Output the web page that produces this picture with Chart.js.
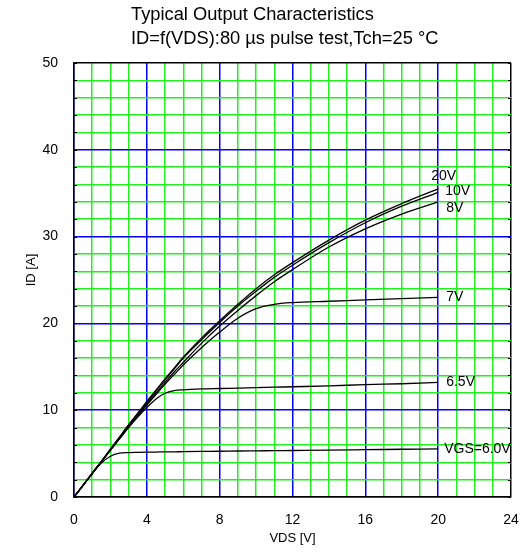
<!DOCTYPE html>
<html lang="en">
<head>
<meta charset="UTF-8">
<title>Typical Output Characteristics</title>
<script src="https://cdn.jsdelivr.net/npm/chart.js@4/dist/chart.umd.min.js"></script>
<style>
  html, body { margin: 0; padding: 0; background: #fff; }
  #wrap { width: 524px; height: 552px; position: relative; }
</style>
</head>
<body>
<div id="wrap"><canvas id="chart"></canvas></div>
<script>
// VDS sample points [V]
const vds = [0, 0.5, 1, 1.5, 2, 2.5, 3, 3.5, 4, 4.5, 5, 5.5, 6, 7, 8, 9, 10, 11, 12, 14, 16, 18, 20];

// ID [A] per gate voltage
const id20V = [0, 1.37, 2.75, 4.1, 5.5, 6.9, 8.3, 9.65, 11.0, 12.3, 13.6, 14.85, 16.1, 18.3, 20.3, 22.2, 24.0, 25.6, 27.0, 29.6, 31.9, 33.8, 35.5];
const id10V = [0, 1.37, 2.75, 4.1, 5.5, 6.9, 8.3, 9.6, 10.9, 12.2, 13.5, 14.75, 16.0, 18.1, 20.1, 22.0, 23.7, 25.3, 26.7, 29.3, 31.6, 33.5, 35.1];
const id8V = [0, 1.35, 2.7, 4.05, 5.4, 6.75, 8.1, 9.4, 10.7, 11.95, 13.2, 14.4, 15.5, 17.7, 19.7, 21.5, 23.2, 24.8, 26.2, 28.8, 30.9, 32.6, 34.0];
const id7V = [0, 1.35, 2.7, 4.05, 5.4, 6.75, 8.1, 9.35, 10.6, 11.8, 13.0, 14.1, 15.2, 17.2, 19.0, 20.6, 21.7, 22.2, 22.4, 22.55, 22.7, 22.85, 23.0];
const id6V5 = [0, 1.35, 2.7, 4.05, 5.4, 6.7, 8.0, 9.2, 10.3, 11.3, 11.95, 12.25, 12.35, 12.45, 12.5, 12.55, 12.6, 12.65, 12.7, 12.8, 12.95, 13.05, 13.2];
const id6V0 = [0, 1.35, 2.7, 3.9, 4.7, 5.05, 5.12, 5.15, 5.17, 5.18, 5.2, 5.2, 5.22, 5.25, 5.27, 5.3, 5.32, 5.34, 5.36, 5.4, 5.45, 5.5, 5.55];

const curveNames = ['20V', '10V', '8V', '7V', '6.5V', 'VGS=6.0V'];
const curveValues = [id20V, id10V, id8V, id7V, id6V5, id6V0];

const xTicksLabelled = [0, 4, 8, 12, 16, 20, 24];
const yTicksLabelled = [0, 10, 20, 30, 40, 50];

const FONT = '"Liberation Sans", Arial, Helvetica, sans-serif';
const GREEN = '#22ee22';
const BLUE = '#0000ff';

// label offsets from each curve's last point (px)
const labelOffsets = {
  '20V': [-7, -13],
  '10V': [7, -1],
  '8V': [8, 6],
  '7V': [8, 0],
  '6.5V': [8, 0],
  'VGS=6.0V': [6, 0],
};

const datasets = curveNames.map((name, i) => ({
  label: name,
  data: vds.map((v, j) => ({ x: v, y: curveValues[i][j] })),
  borderColor: '#000',
  borderWidth: 1.3,
  pointRadius: 0,
  fill: false,
  cubicInterpolationMode: 'monotone',
}));

function gridColor(max, majorStep) {
  return ctx => {
    const v = ctx.tick.value;
    if (v === max) return '#000';
    return v % majorStep === 0 ? BLUE : GREEN;
  };
}

const annotate = {
  id: 'annotate',
  afterDraw(chart) {
    const { ctx, chartArea: a, scales } = chart;
    ctx.save();

    // small inward ticks on left and right frame
    ctx.strokeStyle = '#000';
    ctx.lineWidth = 1;
    scales.y.ticks.forEach(t => {
      const y = Math.round(scales.y.getPixelForValue(t.value)) + 0.5;
      ctx.beginPath();
      ctx.moveTo(a.left, y); ctx.lineTo(a.left + 3, y);
      ctx.moveTo(a.right, y); ctx.lineTo(a.right - 3, y);
      ctx.stroke();
    });

    // curve labels
    ctx.fillStyle = '#000';
    ctx.font = '14px ' + FONT;
    ctx.textBaseline = 'middle';
    ctx.textAlign = 'left';
    chart.data.datasets.forEach((ds, i) => {
      const pts = chart.getDatasetMeta(i).data;
      const p = pts[pts.length - 1];
      const off = labelOffsets[ds.label] || [6, 0];
      ctx.fillText(ds.label, p.x + off[0], p.y + off[1]);
    });

    // title
    ctx.font = '18.3px ' + FONT;
    ctx.textBaseline = 'alphabetic';
    ctx.fillText('Typical Output Characteristics', 131, 20);
    ctx.fillText('ID=f(VDS):80 \u00b5s pulse test,Tch=25 \u00b0C', 131, 44);

    // axis titles
    ctx.font = '13px ' + FONT;
    ctx.textAlign = 'center';
    ctx.textBaseline = 'middle';
    ctx.fillText('VDS [V]', (a.left + a.right) / 2, 538);
    ctx.translate(31, 270);
    ctx.rotate(-Math.PI / 2);
    ctx.fillText('ID [A]', 0, 0);

    ctx.restore();
  }
};

new Chart(document.getElementById('chart'), {
  type: 'line',
  data: { datasets },
  options: {
    responsive: true,
    maintainAspectRatio: false,
    animation: false,
    layout: { padding: { top: 63, right: 13, left: 0, bottom: 0 } },
    plugins: {
      legend: { display: false },
      title: { display: false },
      tooltip: { enabled: false },
    },
    scales: {
      x: {
        type: 'linear',
        min: 0,
        max: 24,
        afterFit: s => { s.height = 55; s.paddingLeft = 0; s.paddingRight = 0; },
        border: { color: '#000', width: 1.5 },
        grid: { color: gridColor(24, 4), lineWidth: 1.5, drawTicks: false },
        ticks: {
          stepSize: 1,
          autoSkip: false,
          maxRotation: 0,
          padding: 15,
          color: '#000',
          font: { family: FONT, size: 14 },
          callback: v => xTicksLabelled.includes(v) ? String(v) : '',
        },
      },
      y: {
        type: 'linear',
        min: 0,
        max: 50,
        afterFit: s => { s.width = 74; s.paddingTop = 0; s.paddingBottom = 0; },
        border: { color: '#000', width: 1.5 },
        grid: { color: gridColor(50, 10), lineWidth: 1.5, drawTicks: false },
        ticks: {
          stepSize: 2,
          autoSkip: false,
          padding: 16,
          color: '#000',
          font: { family: FONT, size: 14 },
          callback: v => yTicksLabelled.includes(v) ? String(v) : '',
        },
      },
    },
  },
  plugins: [annotate],
});
</script>
</body>
</html>
